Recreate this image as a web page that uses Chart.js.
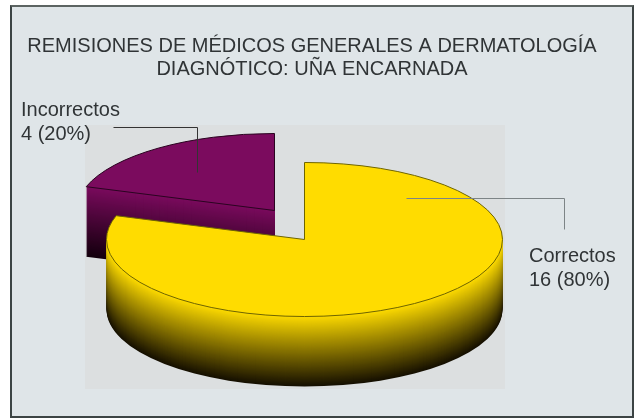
<!DOCTYPE html>
<html>
<head>
<meta charset="utf-8">
<title>Remisiones a dermatología</title>
<script src="https://cdn.jsdelivr.net/npm/chart.js@4"></script>
<style>
  html, body { margin: 0; background: #fff; }
  #wrap { position: relative; width: 638px; height: 419px; overflow: hidden; }
  #panel { position: absolute; left: 10px; top: 5px; width: 620px; height: 409px;
           background: #dfe5e8; border: 2px solid #3c4444; border-top-color: #5c6462; }
  #grain { position: absolute; left: 85px; top: 125px; width: 420px; height: 264px; background: #dcdfe0; }
  canvas { position: absolute; left: 0; top: 0; }
</style>
</head>
<body>
<div id="wrap">
  <div id="panel"></div>
  <div id="grain"></div>
  <canvas id="pie" width="638" height="419"></canvas>
</div>
<script>
const titleLines = ['REMISIONES DE MÉDICOS GENERALES A DERMATOLOGÍA', 'DIAGNÓTICO: UÑA ENCARNADA'];
const categories = ['Correctos', 'Incorrectos'];
const cases = [16, 4];

// flat pie is squashed and extruded by the plugin below
const squash = 0.389;
const depth = 70;
const sliceStyle = [
  { top: '#ffdc00', bottom: [22, 16, 0], rgb: [255, 220, 0], line: '#6e6400', shift: [-7.5, 0] },
  { top: '#7b0b5e', bottom: [20, 0, 14], rgb: [123, 11, 94], line: '#2a0420', shift: [-37.5, -29] }
];
const callouts = [
  { line: [[406, 198], [564, 198], [564, 229]], color: '#7d8486', x: 529, y: 262 },
  { line: [[113, 127], [197, 127], [197, 172]], color: '#333', x: 21, y: 116 }
];

function wedgePath(ctx, arc, dx, dy) {
  const { x, y, startAngle, endAngle, outerRadius } = arc.getProps(['x', 'y', 'startAngle', 'endAngle', 'outerRadius'], true);
  ctx.beginPath();
  ctx.moveTo(x + dx, y + dy);
  ctx.ellipse(x + dx, y + dy, outerRadius, outerRadius * squash, 0, startAngle, endAngle);
  ctx.closePath();
}

const pie3d = {
  id: 'pie3d',
  beforeDatasetsDraw(chart) {
    const ctx = chart.ctx;
    const arcs = chart.getDatasetMeta(0).data;
    // back slice first so the big one covers it
    [1, 0].forEach(i => {
      const st = sliceStyle[i], arc = arcs[i];
      const [dx, dy] = st.shift;
      for (let d = depth; d > 0; d--) {
        const t = Math.pow(d / depth, 0.95);
        const c = st.rgb.map((v, k) => Math.round(v + (st.bottom[k] - v) * t));
        ctx.fillStyle = `rgb(${c.join(',')})`;
        wedgePath(ctx, arc, dx, dy + d);
        ctx.fill();
      }
      ctx.save();
      ctx.translate(arc.x + dx, arc.y + dy);
      ctx.scale(1, squash);
      ctx.translate(-arc.x, -arc.y);
      arc.draw(ctx, chart.chartArea);
      ctx.restore();
      ctx.strokeStyle = st.line;
      ctx.lineWidth = 1;
      wedgePath(ctx, arc, dx, dy);
      ctx.stroke();
    });
    return false;
  },
  afterDraw(chart) {
    const ctx = chart.ctx;
    const total = cases.reduce((a, b) => a + b, 0);
    callouts.forEach((c, i) => {
      ctx.beginPath();
      c.line.forEach(([x, y], k) => k ? ctx.lineTo(x + 0.5, y + 0.5) : ctx.moveTo(x + 0.5, y + 0.5));
      ctx.strokeStyle = c.color;
      ctx.lineWidth = 1;
      ctx.stroke();
      ctx.fillStyle = '#303436';
      ctx.font = '20px "Liberation Sans"';
      ctx.textAlign = 'left';
      ctx.textBaseline = 'alphabetic';
      ctx.fillText(categories[i], c.x, c.y);
      ctx.fillText(`${cases[i]} (${Math.round(cases[i] / total * 100)}%)`, c.x, c.y + 24);
    });
  }
};

new Chart(document.getElementById('pie').getContext('2d'), {
  type: 'pie',
  data: {
    labels: categories,
    datasets: [{
      data: cases,
      backgroundColor: sliceStyle.map(s => s.top),
      borderWidth: 0,
      radius: 198
    }]
  },
  options: {
    responsive: false,
    animation: false,
    layout: { padding: { left: 0, right: 14, top: 35, bottom: 21 } },
    plugins: {
      legend: { display: false },
      tooltip: { enabled: false },
      title: {
        display: true,
        text: titleLines,
        color: '#303436',
        font: { family: '"Liberation Sans"', size: 20, weight: 'normal', lineHeight: 1.15 },
        padding: 0
      }
    }
  },
  plugins: [pie3d]
});
</script>
</body>
</html>
